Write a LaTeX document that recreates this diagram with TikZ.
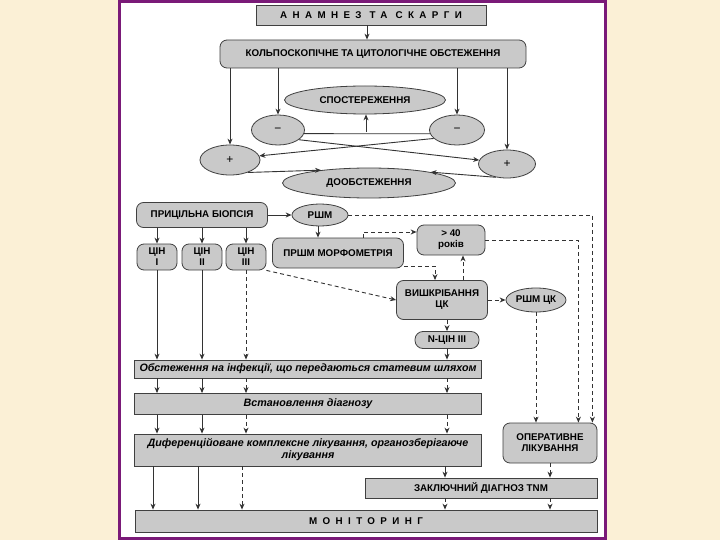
\documentclass[tikz,border=0pt]{standalone}
\usepackage{fontspec}
\setmainfont{Liberation Sans}
\newfontfamily\spacedfont[LetterSpace=55]{Liberation Sans}
\usetikzlibrary{shapes.geometric,arrows.meta}
\definecolor{framepurple}{HTML}{7A1A78}
\definecolor{paper}{HTML}{FBF0D6}
\definecolor{boxgray}{HTML}{C9C9C9}

\begin{document}
\begin{tikzpicture}[
    x=1pt, y=-1pt,
    box/.style={rectangle, draw=black!75, line width=0.8pt, fill=boxgray,
                inner sep=1pt, text centered, align=center, font=\fontsize{9.8}{11}\selectfont\bfseries},
    rbox/.style={box, rounded corners=7pt},
    oval/.style={ellipse, draw=black!75, line width=0.8pt, fill=boxgray,
                 inner sep=0pt, text centered, font=\fontsize{9.8}{11}\selectfont\bfseries},
    wide/.style={box, font=\fontsize{10.7}{12}\selectfont\bfseries\itshape},
    arr/.style={-{Stealth[length=6pt,width=5pt]}, line width=0.9pt, draw=black!80},
    darr/.style={arr, dash pattern=on 4pt off 3pt},
    ln/.style={line width=0.9pt, draw=black!80}
]

% Page
\useasboundingbox (0,0) rectangle (720,540);
\fill[paper] (0,0) rectangle (720,540);
\draw[framepurple, line width=3pt, fill=white] (119.5,1.5) rectangle (605.5,538.5);

% Top part
\node[box, minimum width=230pt, minimum height=20pt] (anamnez) at (371,15) {\spacedfont\bfseries АНАМНЕЗ ТА СКАРГИ};
\node[rbox, minimum width=306pt, minimum height=28pt] (kolpo) at (373,54) {КОЛЬПОСКОПІЧНЕ ТА ЦИТОЛОГІЧНЕ ОБСТЕЖЕННЯ};
\node[oval, minimum width=161pt, minimum height=28pt] (spost) at (365,100) {СПОСТЕРЕЖЕННЯ};
\node[oval, minimum width=53pt, minimum height=30pt, font=\fontsize{12}{12}\selectfont] (minL) at (278,130) {−};
\node[oval, minimum width=55pt, minimum height=30pt, font=\fontsize{12}{12}\selectfont] (minR) at (457,130) {−};
\node[oval, minimum width=60pt, minimum height=30pt, font=\fontsize{12}{12}\selectfont] (plusL) at (230,160) {+};
\node[oval, minimum width=57pt, minimum height=28pt, font=\fontsize{12}{12}\selectfont] (plusR) at (507,164) {+};
\node[oval, minimum width=173pt, minimum height=30pt] (doobst) at (369,183) {ДООБСТЕЖЕННЯ};
\coordinate (mid) at (366,132);

% Biopsy part
\node[rbox, minimum width=131pt, minimum height=25pt] (biopsy) at (202,215) {ПРИЦІЛЬНА БІОПСІЯ};
\node[oval, minimum width=56pt, minimum height=22pt] (rshm) at (320,215) {РШМ};
\node[rbox, minimum width=40pt, minimum height=26pt] (cin1) at (157,257) {ЦІН\\I};
\node[rbox, minimum width=40pt, minimum height=26pt] (cin2) at (202,257) {ЦІН\\II};
\node[rbox, minimum width=40pt, minimum height=26pt] (cin3) at (246,257) {ЦІН\\III};
\node[rbox, minimum width=131pt, minimum height=30pt] (prshm) at (338,253) {ПРШМ МОРФОМЕТРІЯ};
\node[rbox, minimum width=68pt, minimum height=30pt] (over40) at (451,240) {> 40\\років};
\node[rbox, minimum width=91pt, minimum height=39pt] (vyshk) at (442,300) {ВИШКРІБАННЯ\\ЦК};
\node[oval, minimum width=60pt, minimum height=24pt] (rshmck) at (536,300) {РШМ ЦК};
\node[rbox, rounded corners=8pt, minimum width=64pt, minimum height=17pt] (ncin) at (447,340) {N-ЦІН III};

% Bottom part
\node[wide, minimum width=347pt, minimum height=18pt] (infekt) at (308,369) {Обстеження на інфекції, що передаються статевим шляхом};
\node[wide, minimum width=347pt, minimum height=21pt] (diagn) at (308,404) {Встановлення діагнозу};
\node[wide, minimum width=347pt, minimum height=32pt] (dyfer) at (308,450) {Диференційоване комплексне лікування, органозберігаюче\\лікування};
\node[rbox, minimum width=94pt, minimum height=40pt] (operat) at (550,443) {ОПЕРАТИВНЕ\\ЛІКУВАННЯ};
\node[box, minimum width=232pt, minimum height=20pt] (zakl) at (481,488) {ЗАКЛЮЧНИЙ ДІАГНОЗ TNM};
\node[box, minimum width=462pt, minimum height=22pt] (monit) at (366,521) {\spacedfont\bfseries МОНІТОРИНГ};

% Connectors, top
\draw[arr] (anamnez.south -| 367,0) -- (kolpo.north -| 367,0);
\draw[arr] (kolpo.south -| plusL.north) -- (plusL.north);
\draw[arr] (kolpo.south -| minL.north) -- (minL.north);
\draw[arr] (kolpo.south -| minR.north) -- (minR.north);
\draw[arr] (kolpo.south -| plusR.north) -- (plusR.north);
\draw[ln] (minL.-8) -- (minR.188);
\draw[arr] (mid) -- (mid |- spost.south);
\draw[arr] (minL.-25) -- (plusR.172);
\draw[arr] (minR.200) -- (plusL.8);
\draw[arr] (plusL.-35) -- (doobst.165);
\draw[arr] (plusR.-130) -- (doobst.10);

% Connectors, biopsy
\draw[arr] (biopsy.east) -- (rshm.west);
\draw[arr] (biopsy.south -| cin1) -- (cin1.north);
\draw[arr] (biopsy.south -| cin2) -- (cin2.north);
\draw[arr] (biopsy.south -| cin3) -- (cin3.north);
\draw[arr] (rshm.south -| 318,0) -- (prshm.north -| 318,0);
\draw[darr] ([xshift=25pt]prshm.north) |- ([yshift=8pt]over40.west);
\draw[darr] ([yshift=2pt]prshm.south east) -| ([xshift=-7pt]vyshk.north);
\draw[darr] ([xshift=21pt]vyshk.north) -- ([xshift=21pt]vyshk.north |- over40.south);
\draw[darr] (cin3.south east) -- (vyshk.west);
\draw[darr] (vyshk.east) -- (rshmck.west);
\draw[darr] (vyshk.south -| ncin) -- (ncin.north);
\draw[darr] (rshm.east) -| ([xshift=-5pt]operat.north east);
\draw[darr] (over40.east) -| ([xshift=-19pt]operat.north east);
\draw[darr] (rshmck.south) -- (rshmck.south |- operat.north);

% Connectors, bottom
\draw[arr] (cin1.south) -- (cin1.south |- infekt.north);
\draw[arr] (cin2.south) -- (cin2.south |- infekt.north);
\draw[darr] (cin3.south) -- (cin3.south |- infekt.north);
\draw[arr] (ncin.south) -- (ncin.south |- infekt.north);
\draw[arr] (infekt.south -| cin1) -- (diagn.north -| cin1);
\draw[arr] (infekt.south -| cin2) -- (diagn.north -| cin2);
\draw[darr] (infekt.south -| cin3) -- (diagn.north -| cin3);
\draw[darr] (infekt.south -| ncin) -- (diagn.north -| ncin);
\draw[arr] (diagn.south -| cin1) -- (dyfer.north -| cin1);
\draw[arr] (diagn.south -| cin2) -- (dyfer.north -| cin2);
\draw[darr] (diagn.south -| cin3) -- (dyfer.north -| cin3);
\draw[darr] (diagn.south -| ncin) -- (dyfer.north -| ncin);
\draw[arr] ([xshift=-4pt]dyfer.south -| cin1) -- ([xshift=-4pt]monit.north -| cin1);
\draw[arr] ([xshift=-4pt]dyfer.south -| cin2) -- ([xshift=-4pt]monit.north -| cin2);
\draw[darr] ([xshift=-4pt]dyfer.south -| cin3) -- ([xshift=-4pt]monit.north -| cin3);
\draw[arr] ([xshift=-2pt]dyfer.south -| ncin) -- ([xshift=-2pt]zakl.north -| ncin);
\draw[darr] (operat.south) -- (operat.south |- zakl.north);
\draw[darr] ([xshift=-2pt]zakl.south -| ncin) -- ([xshift=-2pt]monit.north -| ncin);
\draw[darr] (zakl.south -| operat) -- (monit.north -| operat);

\end{tikzpicture}
\end{document}
